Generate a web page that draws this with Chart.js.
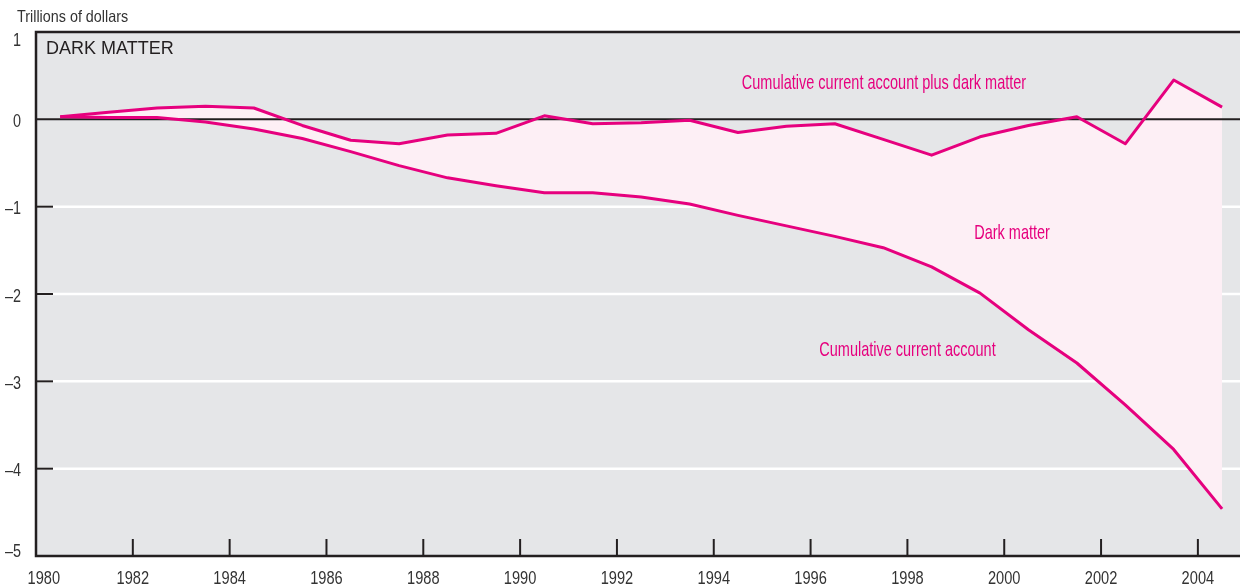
<!DOCTYPE html>
<html>
<head>
<meta charset="utf-8">
<script src="https://cdn.jsdelivr.net/npm/chart.js@4"></script>
<style>
  body { margin: 0; background: #ffffff; }
  #darkMatterChart { display: block; }
</style>
</head>
<body>
<canvas id="darkMatterChart" width="1240" height="586" style="width:1240px;height:586px"></canvas>
<script>
// Datos: años (punto a mitad de año) y valores en billones de dólares
var years = [1980, 1981, 1982, 1983, 1984, 1985, 1986, 1987, 1988, 1989,
             1990, 1991, 1992, 1993, 1994, 1995, 1996, 1997, 1998, 1999,
             2000, 2001, 2002, 2003, 2004];
var cumCurrentAccount = [0.03, 0.02, 0.02, -0.03, -0.11, -0.22, -0.37, -0.53, -0.67, -0.76,
                         -0.84, -0.84, -0.89, -0.97, -1.10, -1.22, -1.34, -1.47, -1.69, -1.99,
                         -2.41, -2.79, -3.27, -3.78, -4.46];
var cumPlusDarkMatter = [0.03, 0.08, 0.13, 0.15, 0.13, -0.07, -0.24, -0.28, -0.18, -0.16,
                         0.04, -0.05, -0.04, -0.01, -0.15, -0.08, -0.05, -0.23, -0.41, -0.20,
                         -0.07, 0.03, -0.28, 0.45, 0.14];
var xTickYears = [1980, 1982, 1984, 1986, 1988, 1990, 1992, 1994, 1996, 1998, 2000, 2002, 2004];
var yTickValues = [1, 0, -1, -2, -3, -4, -5];

var labels = [
    { text: 'Cumulative current account plus dark matter', x: 1994.58, y: 0.347 },
    { text: 'Dark matter', x: 1999.38, y: -1.37 },
    { text: 'Cumulative current account', x: 1996.18, y: -2.71 }
];

var magenta = '#e6007e';
var ink = '#231f20';
var sans = '"Liberation Sans", Arial, sans-serif';

function toPoints(values) {
    var pts = [];
    for (var i = 0; i < years.length; i++) {
        pts.push({ x: years[i] + 0.5, y: values[i] });
    }
    return pts;
}

// texto estrechado (imitando una fuente condensada)
function narrowText(ctx, text, x, y, align, sx) {
    ctx.save();
    ctx.translate(x, y);
    ctx.scale(sx, 1);
    ctx.textAlign = align;
    ctx.textBaseline = 'alphabetic';
    ctx.fillText(text, 0, 0);
    ctx.restore();
}

// Fondo, rejilla, marco, marcas y textos
var decor = {
    id: 'decor',
    beforeDraw: function(chart) {
        var ctx = chart.ctx, a = chart.chartArea, ys = chart.scales.y;
        ctx.save();
        ctx.fillStyle = '#ffffff';
        ctx.fillRect(0, 0, chart.width, chart.height);
        ctx.fillStyle = '#e5e6e8';
        ctx.fillRect(a.left, a.top, a.right - a.left, a.bottom - a.top);
        ctx.strokeStyle = '#ffffff';
        ctx.lineWidth = 2.5;
        [-1, -2, -3, -4].forEach(function(v) {
            var py = ys.getPixelForValue(v);
            ctx.beginPath();
            ctx.moveTo(a.left, py);
            ctx.lineTo(a.right, py);
            ctx.stroke();
        });
        ctx.restore();
    },
    beforeDatasetsDraw: function(chart) {
        var ctx = chart.ctx, a = chart.chartArea, ys = chart.scales.y;
        var py = ys.getPixelForValue(0);
        ctx.save();
        ctx.strokeStyle = ink;
        ctx.lineWidth = 2;
        ctx.beginPath();
        ctx.moveTo(a.left, py);
        ctx.lineTo(a.right, py);
        ctx.stroke();
        ctx.restore();
    },
    afterDraw: function(chart) {
        var ctx = chart.ctx, a = chart.chartArea;
        var xs = chart.scales.x, ys = chart.scales.y;
        ctx.save();
        ctx.strokeStyle = ink;
        ctx.lineWidth = 2.5;
        ctx.beginPath();
        ctx.moveTo(a.right, a.top);
        ctx.lineTo(a.left, a.top);
        ctx.lineTo(a.left, a.bottom);
        ctx.lineTo(a.right, a.bottom);
        ctx.stroke();

        // marcas hacia dentro
        ctx.lineWidth = 2;
        xTickYears.forEach(function(yr) {
            if (yr === xTickYears[0]) return;
            var px = xs.getPixelForValue(yr);
            ctx.beginPath();
            ctx.moveTo(px, a.bottom);
            ctx.lineTo(px, a.bottom - 17);
            ctx.stroke();
        });
        [-1, -2, -3, -4].forEach(function(v) {
            var py = ys.getPixelForValue(v);
            ctx.beginPath();
            ctx.moveTo(a.left, py);
            ctx.lineTo(a.left + 17, py);
            ctx.stroke();
        });

        // etiquetas de ejes
        ctx.fillStyle = '#333333';
        ctx.font = '19px ' + sans;
        xTickYears.forEach(function(yr, i) {
            var px = xs.getPixelForValue(yr);
            if (i === 0) {
                narrowText(ctx, String(yr), px - 8.5, a.bottom + 27.5, 'left', 0.77);
            } else {
                narrowText(ctx, String(yr), px, a.bottom + 27.5, 'center', 0.77);
            }
        });
        ctx.font = '18px ' + sans;
        yTickValues.forEach(function(v, i) {
            var py = ys.getPixelForValue(v);
            var txt = v < 0 ? '\u2013' + Math.abs(v) : String(v);
            if (i === 0) {
                py += 13.5;
            } else if (i === yTickValues.length - 1) {
                py += 1;
            } else {
                py += 7.5;
            }
            narrowText(ctx, txt, 21, py, 'right', 0.8);
        });

        ctx.font = '16.5px ' + sans;
        narrowText(ctx, 'Trillions of dollars', 17, 22, 'left', 0.87);

        ctx.fillStyle = ink;
        ctx.font = '18px ' + sans;
        ctx.textAlign = 'left';
        ctx.textBaseline = 'alphabetic';
        ctx.fillText('DARK MATTER', 46, 54);

        // rótulos de las series
        ctx.fillStyle = magenta;
        ctx.font = '21px ' + sans;
        labels.forEach(function(l) {
            narrowText(ctx, l.text, xs.getPixelForValue(l.x), ys.getPixelForValue(l.y), 'left', 0.69);
        });
        ctx.restore();
    }
};

var ctx = document.getElementById('darkMatterChart').getContext('2d');
var myChart = new Chart(ctx, {
    type: 'line',
    data: {
        datasets: [{
            label: 'Cumulative current account plus dark matter',
            data: toPoints(cumPlusDarkMatter),
            borderColor: magenta,
            backgroundColor: '#fdeff5',
            borderWidth: 3,
            fill: '+1'
        }, {
            label: 'Cumulative current account',
            data: toPoints(cumCurrentAccount),
            borderColor: magenta,
            borderWidth: 3,
            fill: false
        }]
    },
    options: {
        responsive: false,
        animation: false,
        layout: {
            padding: { left: 36, top: 32, right: 0, bottom: 30 }
        },
        elements: {
            point: { radius: 0 },
            line: { tension: 0, borderJoinStyle: 'round' }
        },
        scales: {
            x: { type: 'linear', min: 1980, max: 2004.87, display: false },
            y: { type: 'linear', min: -5, max: 1, display: false }
        },
        plugins: {
            legend: { display: false },
            tooltip: { enabled: false },
            filler: { drawTime: 'beforeDatasetsDraw' }
        }
    },
    plugins: [decor]
});
</script>
</body>
</html>
